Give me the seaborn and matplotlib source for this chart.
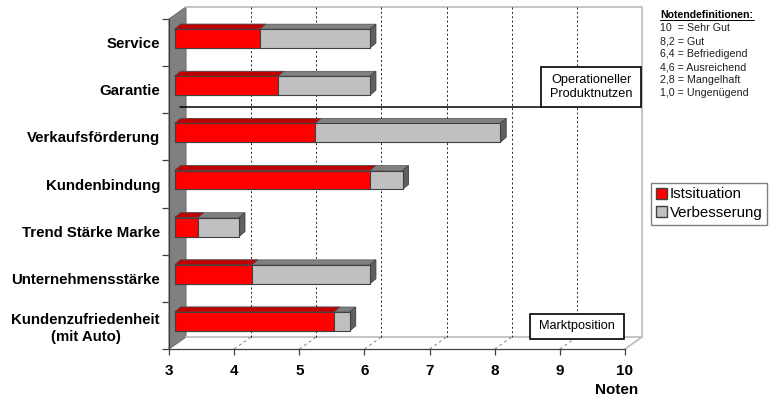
import pandas as pd
import matplotlib
matplotlib.use("Agg")
import matplotlib.pyplot as plt
import seaborn as sns
from matplotlib.lines import Line2D
from matplotlib.patches import Patch, Polygon, Rectangle

# Werte
kategorien = ["Service", "Garantie", "Verkaufsförderung", "Kundenbindung",
              "Trend Stärke Marke", "Unternehmensstärke", "Kundenzufriedenheit\n(mit Auto)"]
istsituation = [4.31, 4.59, 5.16, 6.0, 3.36, 4.19, 5.45]
gesamt = [6.0, 6.0, 8.0, 6.5, 3.99, 6.0, 5.69]
x_ticks = [3, 4, 5, 6, 7, 8, 9, 10]
noten_titel = "Notendefinitionen:"
noten = ["10  = Sehr Gut", "8,2 = Gut", "6,4 = Befriedigend", "4,6 = Ausreichend",
         "2,8 = Mangelhaft", "1,0 = Ungenügend"]

W, H = 780, 416
X0, X1, Y0, Y1 = 169, 625, 19, 349
px_x = (X1 - X0) / 7
px_y = (Y1 - Y0) / 7

sns.set_theme(style="white")
plt.rcParams["font.family"] = ["Liberation Sans", "DejaVu Sans"]


def fig_xy(x, y):
    return x / W, 1 - y / H


def draw_walls(ax):
    # 3D-Rahmen: linke Wand, Rueckwand, Boden
    dx, dy = 17 / px_x, -12 / px_y
    top, bottom = -0.5, 6.5
    ax.add_patch(Polygon([(3, top), (3 + dx, top + dy), (3 + dx, bottom + dy), (3, bottom)],
                         facecolor="#808080", edgecolor="#707070", lw=0.8, clip_on=False, zorder=1))
    rand = dict(color="#c0c0c0", lw=1.3, clip_on=False, zorder=1)
    ax.plot([3 + dx, 10 + dx, 10 + dx, 3 + dx], [top + dy, top + dy, bottom + dy, bottom + dy], **rand)
    ax.plot([10, 10 + dx], [bottom, bottom + dy], **rand)
    for v in x_ticks[1:-1]:
        ax.plot([v + dx, v + dx], [top + dy, bottom + dy], color="#202020", lw=0.7,
                ls=(0, (2, 2.5)), clip_on=False, zorder=1.5)
        ax.plot([v, v + dx], [bottom, bottom + dy], color="#808080", lw=0.7,
                ls=(0, (3, 3)), clip_on=False, zorder=1.5)


def make_3d(ax, bars, top_color, side_color=None):
    # Balken verschieben und Deck-/Seitenflaeche ergaenzen
    dx, dy = 6 / px_x, -5 / px_y
    shift_x, shift_y = 5.5 / px_x, -4 / px_y
    for bar in bars:
        end = bar.get_width()
        bar.set_x(3 + shift_x)
        bar.set_width(end - 3)
        bar.set_y(bar.get_y() + shift_y)
        bar.set_zorder(3)
        x1 = bar.get_x() + bar.get_width()
        y0 = bar.get_y()
        y1 = y0 + bar.get_height()
        ax.add_patch(Polygon([(bar.get_x(), y0), (bar.get_x() + dx, y0 + dy), (x1 + dx, y0 + dy), (x1, y0)],
                             facecolor=top_color, edgecolor="#505050", lw=0.5, zorder=2.5 if side_color else 2.8))
        if side_color:
            ax.add_patch(Polygon([(x1, y0), (x1 + dx, y0 + dy), (x1 + dx, y1 + dy), (x1, y1)],
                                 facecolor=side_color, edgecolor="#404040", lw=0.6, zorder=2.5))


def box(fig, x0, y0, x1, y1, text, size):
    fx0, fy0 = fig_xy(x0, y1)
    fig.add_artist(Rectangle((fx0, fy0), (x1 - x0) / W, (y1 - y0) / H, transform=fig.transFigure,
                             facecolor="white", edgecolor="black", lw=1.2, zorder=5))
    cx, cy = fig_xy((x0 + x1) / 2, (y0 + y1) / 2)
    fig.text(cx, cy, text, ha="center", va="center", fontsize=size, color="black",
             linespacing=1.25, zorder=6)


df = pd.DataFrame({"kategorie": kategorien, "ist": istsituation, "gesamt": gesamt})

fig = plt.figure(figsize=(W / 100, H / 100), dpi=100)
ax = fig.add_axes([X0 / W, 1 - Y1 / H, (X1 - X0) / W, (Y1 - Y0) / H])
ax.patch.set_alpha(0)

sns.barplot(data=df, x="gesamt", y="kategorie", orient="y", color="#c0c0c0", saturation=1,
            width=0.4, edgecolor="#404040", linewidth=0.8, errorbar=None, ax=ax)
n = len(kategorien)
grey_bars = list(ax.patches[:n])
sns.barplot(data=df, x="ist", y="kategorie", orient="y", color="#ff0000", saturation=1,
            width=0.4, edgecolor="#404040", linewidth=0.8, errorbar=None, ax=ax)
red_bars = list(ax.patches[n:2 * n])

ax.set_xlim(3, 10)
ax.set_ylim(6.5, -0.5)
draw_walls(ax)
make_3d(ax, grey_bars, "#808080", "#606060")
make_3d(ax, red_bars, "#c00000")
for bar in red_bars:
    bar.set_zorder(3.2)

ax.set_xlabel("")
ax.set_ylabel("")
ax.set_xticks(x_ticks)
ax.set_yticks([i - 0.5 for i in range(n + 1)], minor=True)
ax.tick_params(axis="y", which="major", length=0, pad=6.5, labelsize=10.8, labelcolor="black")
ax.tick_params(axis="y", which="minor", left=True, length=5, width=0.9, color="#404040")
ax.tick_params(axis="x", bottom=True, length=4.5, width=0.9, color="#404040", pad=6.5, labelsize=11,
               labelcolor="black")
for t in ax.get_xticklabels() + ax.get_yticklabels():
    t.set_fontweight("bold")
for t in ax.get_yticklabels():
    t.set_multialignment("center")
    t.set_linespacing(1.3)
sns.despine(ax=ax)
for s in ["left", "bottom"]:
    ax.spines[s].set_color("#404040")
    ax.spines[s].set_linewidth(0.9)
    ax.spines[s].set_zorder(2)

fig.text(*fig_xy(638, 390), "Noten", ha="right", va="center", fontsize=11, fontweight="bold", color="black")

# Trennlinie und Beschriftungsboxen
fig.add_artist(Line2D([180 / W, 541 / W], [1 - 107 / H, 1 - 107 / H], color="black", lw=1.1, zorder=4))
box(fig, 541, 67, 641, 107, "Operationeller\nProduktnutzen", 9.2)
box(fig, 530, 314, 624, 339, "Marktposition", 9.2)

# Notendefinitionen
fig.text(*fig_xy(660, 15), noten_titel, ha="left", va="center", fontsize=7.6, fontweight="bold", color="black")
fig.add_artist(Line2D([660 / W, 754 / W], [1 - 20 / H, 1 - 20 / H], color="black", lw=0.7))
for i, zeile in enumerate(noten):
    fig.text(*fig_xy(660, 28 + 13 * i), zeile, ha="left", va="center", fontsize=7.7, color="#202020")

handles = [Patch(facecolor="#ff0000", edgecolor="#404040", label="Istsituation"),
           Patch(facecolor="#c0c0c0", edgecolor="#404040", label="Verbesserung")]
leg = fig.legend(handles=handles, loc="upper left", bbox_to_anchor=fig_xy(651, 183), frameon=True,
                 fancybox=False, framealpha=1, edgecolor="#808080", fontsize=10.8, handlelength=0.75,
                 handleheight=0.75, handletextpad=0.2, labelspacing=0.3, borderpad=0.3, borderaxespad=0,
                 labelcolor="black")
leg.get_frame().set_linewidth(1)

fig.savefig("out.png", dpi=100)
